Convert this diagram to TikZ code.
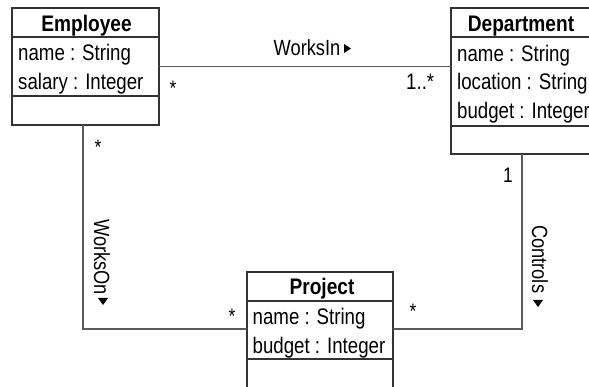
\documentclass[tikz,border=0pt]{standalone}
\usepackage{fontspec}
\setmainfont{Liberation Sans}[FakeStretch=0.83]
\newfontfamily\titlefont{Liberation Sans}[FakeStretch=0.85]
\definecolor{boxc}{HTML}{333333}
\definecolor{linec}{HTML}{5A5A5A}
\begin{document}
\begin{tikzpicture}[x=1pt,y=-1pt,
  umlbox/.style={draw=boxc, line width=1.2pt, rectangle, inner sep=0pt, outer sep=0pt, anchor=north west},
  divider/.style={draw=boxc, line width=1.2pt},
  conn/.style={draw=linec, line width=1.3pt},
  txt/.style={inner sep=0pt, anchor=base west, font=\fontsize{22.5}{27}\selectfont, text=black},
  lbl/.style={inner sep=0pt, anchor=base west, font=\fontsize{22}{26}\selectfont, text=black},
  ttl/.style={inner sep=0pt, anchor=base, font=\fontsize{22.5}{27}\selectfont\titlefont\bfseries, text=black},
  mult/.style={inner sep=0pt, anchor=base, font=\fontsize{21}{25}\selectfont, text=black},
  tri/.style={fill=black}]
\useasboundingbox (0,0) rectangle (589,387);
\clip (0,0) rectangle (589,387);
\fill[white] (0,0) rectangle (589,387);
% boxes
\node[umlbox, minimum width=147pt, minimum height=117pt] (emp) at (12,8) {};
\node[umlbox, minimum width=142pt, minimum height=146pt] (dept) at (451,8) {};
\node[umlbox, minimum width=146pt, minimum height=130pt] (proj) at (247,272) {};
% dividers
\draw[divider] (12,37) -- (159,37);
\draw[divider] (12,96) -- (159,96);
\draw[divider] (451,37) -- (593,37);
\draw[divider] (451,126) -- (593,126);
\draw[divider] (247,301) -- (393,301);
\draw[divider] (247,359) -- (393,359);
% texts
\node[ttl] (empT) at (86.5,32) {Employee};
\node[txt] (empA1) at (18,61) {name : String};
\node[txt] (empA2) at (18,90) {salary : Integer};
\node[ttl] (deptT) at (521,32) {Department};
\node[txt] (deptA1) at (457,61.5) {name : String};
\node[txt] (deptA2) at (457,90) {location : String};
\node[txt] (deptA3) at (457,118.5) {budget : Integer};
\node[ttl] (projT) at (322,295) {Project};
\node[txt] (projA1) at (252.5,324) {name : String};
\node[txt] (projA2) at (252.5,353) {budget : Integer};
% connectors
\coordinate (row) at (0,329);
\draw[conn] (emp.east) -- (emp.east -| dept.west);
\draw[conn] ([xshift=-2.5pt]emp.south) |- (proj.west |- row);
\draw[conn] (dept.south) |- (proj.east |- row);
% association labels
\node[lbl] (wi) at (273.5,55.5) {WorksIn};
\fill[tri] (344,44) -- (351,48.5) -- (344,53) -- cycle;
\node[lbl, rotate=-90] (wo) at (94,219) {WorksOn};
\fill[tri] (98,298) -- (108,298) -- (103,305) -- cycle;
\node[lbl, rotate=-90] (ct) at (532,225) {Controls};
\fill[tri] (533,300) -- (543,300) -- (538,307) -- cycle;
% multiplicities
\node[mult] (m1) at (173,95.6) {*};
\node[txt] (m2) at (406,90) {1..*};
\node[mult] (m3) at (98,154.6) {*};
\node[mult] (m4) at (508,183) {1};
\node[mult] (m5) at (232,323.6) {*};
\node[mult] (m6) at (413,318.6) {*};
\end{tikzpicture}
\end{document}
